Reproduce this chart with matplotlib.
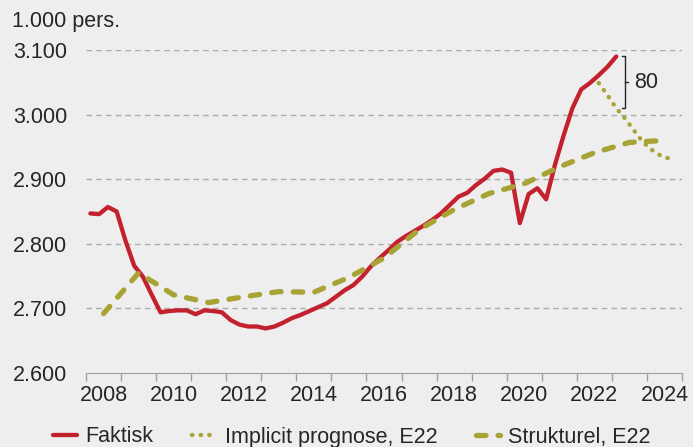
import numpy as np
import matplotlib.pyplot as plt

# Beskæftigelse, 1.000 pers. (kvartalsdata, faktisk 2008K1-2023K1)
faktisk = [2847, 2846, 2857, 2850,
           2805, 2766, 2749, 2721,
           2694, 2696, 2697, 2697,
           2691, 2697, 2696, 2694,
           2682, 2675, 2672, 2672,
           2669, 2672, 2678, 2685,
           2690, 2696, 2702, 2708,
           2718, 2728, 2736, 2749,
           2765, 2778, 2790, 2803,
           2812, 2820, 2828, 2837,
           2847, 2860, 2873, 2879,
           2891, 2901, 2913, 2915,
           2910, 2832, 2877, 2886,
           2869, 2922, 2968, 3010,
           3039, 3049, 3061, 3074,
           3090]
# implicit prognose fra 2022K3
prognose = [3049, 3030, 3010, 2994, 2976, 2958, 2946, 2937, 2932]
# strukturel beskæftigelse, årlig 2008-2024
aar = list(range(2008, 2025))
strukturel = [2692, 2755, 2721, 2709, 2718, 2726, 2725, 2748, 2778,
              2822, 2853, 2878, 2893, 2919, 2941, 2957, 2960]

yticks = [2600, 2700, 2800, 2900, 3000, 3100]
ytick_labels = ['2.600', '2.700', '2.800', '2.900', '3.000', '3.100']
xtick_years = list(range(2008, 2025, 2))

red = '#C4212F'
olive = '#A8A335'
bg = '#EEEEEE'
txt = '#262626'

plt.rcParams['font.family'] = ['Liberation Sans', 'DejaVu Sans']
plt.rcParams['font.size'] = 15.5

fig = plt.figure(figsize=(6.93, 4.47), dpi=100, facecolor=bg)
ax = fig.add_axes([0.1241, 0.1655, 0.86, 0.7226], facecolor=bg)

x_f = 2008.125 + np.arange(len(faktisk)) / 4
x_p = 2022.625 + np.arange(len(prognose)) / 4
x_s = np.array(aar) + 0.5

ax.plot(x_f, faktisk, color=red, lw=3.1, solid_capstyle='round',
        solid_joinstyle='round', label='Faktisk', zorder=3)
ax.plot(x_p, prognose, color=olive, lw=3.1, linestyle=(0, (0.1, 1.9)),
        dash_capstyle='round', label='Implicit prognose, E22', zorder=4)
ax.plot(x_s, strukturel, color=olive, lw=3.8, linestyle=(0, (1.8, 2.3)),
        dash_capstyle='round', label='Strukturel, E22', zorder=4)

# klamme for forskellen mellem faktisk og prognose
top = faktisk[-1]
bund = prognose[int(round((x_f[-1] - x_p[0]) * 4))]
xb = x_f[-1] + 0.25
ax.plot([xb - 0.08, xb, xb, xb - 0.08], [top, top, bund, bund], color=txt, lw=1.0, zorder=5)
ax.plot([xb, xb + 0.08], [(top + bund) / 2] * 2, color=txt, lw=1.0, zorder=5)
ax.text(xb + 0.27, (top + bund) / 2, str(int(round(top - bund))), color=txt,
        va='center', ha='left', fontsize=15.5)

ax.set_xlim(2008, 2025)
ax.set_ylim(2600, 3100)
ax.set_yticks(yticks)
ax.set_yticklabels(ytick_labels, color=txt)
ax.tick_params(axis='y', length=0, pad=13.5)
for v in yticks[1:]:
    ax.axhline(v, color='#ABABAB', lw=1.0, linestyle=(0, (4, 3)), zorder=1)

ax.set_xticks(range(2008, 2026))
ax.set_xticklabels([])
ax.set_xticks([y + 0.5 for y in xtick_years], minor=True)
ax.set_xticklabels([str(y) for y in xtick_years], minor=True, color=txt)
ax.tick_params(axis='x', which='major', length=6, color='#A0A0A0', width=1)
ax.tick_params(axis='x', which='minor', length=0, pad=8.5)

for s in ['top', 'right', 'left']:
    ax.spines[s].set_visible(False)
ax.spines['bottom'].set_color('#A0A0A0')

fig.text(12 / 693, 1 - 27 / 447, '1.000 pers.', color=txt, va='baseline', ha='left', fontsize=15.5)

fig.legend(loc='center', bbox_to_anchor=(0.508, 1 - 437 / 447), ncol=3, frameon=False,
           handlelength=1.1, handletextpad=0.4, columnspacing=1.8, labelcolor=txt)

fig.savefig('out.png', dpi=100, facecolor=bg)
